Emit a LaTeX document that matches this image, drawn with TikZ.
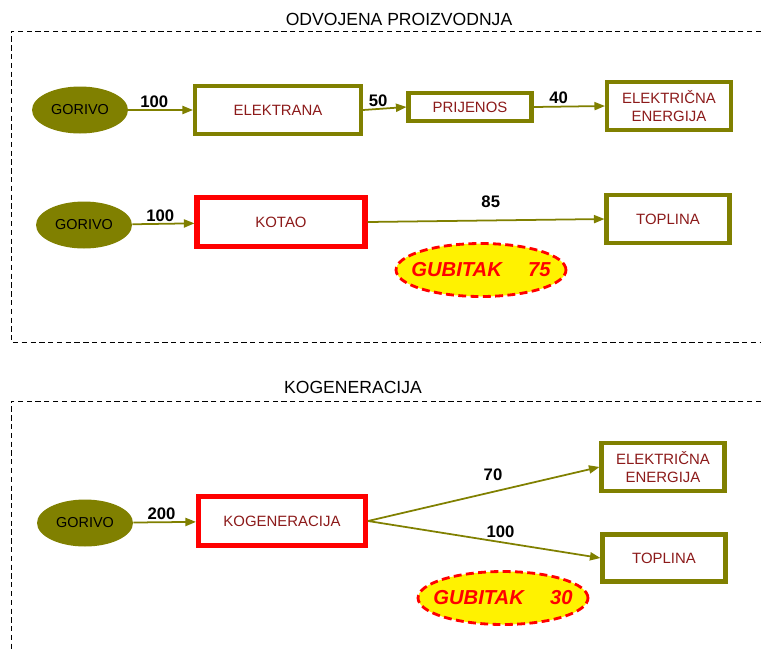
\documentclass[tikz,border=0pt]{standalone}
\usepackage{fontspec}
\setmainfont{Liberation Sans}
\usetikzlibrary{positioning, shapes.geometric, arrows.meta}

\definecolor{maslina}{RGB}{128,128,0}
\definecolor{tamnocrvena}{RGB}{140,26,26}

\tikzset{
  gorivo/.style={ellipse, fill=maslina, minimum width=1.92cm, minimum height=0.94cm, inner sep=0pt, font=\fontsize{8.2}{10}\selectfont},
  blok/.style={draw=maslina, line width=2.3pt, fill=white, text=tamnocrvena, align=center, inner sep=0pt, font=\fontsize{8.5}{10}\selectfont},
  kotao/.style={blok, draw=red, line width=2.9pt},
  tok/.style={draw=maslina, line width=1pt, -{Triangle[length=6pt, width=4.6pt]}},
  iznos/.style={font=\bfseries\fontsize{9.5}{11}\selectfont, inner sep=1pt},
  gubitak/.style={ellipse, draw=red, fill=yellow, dash pattern=on 4.5pt off 2.5pt, line width=1.6pt, text=red, inner xsep=-6.5pt, inner ysep=0pt, minimum width=3.4cm, minimum height=1.06cm, font=\bfseries\itshape\fontsize{11.5}{13}\selectfont},
  naslov/.style={font=\fontsize{10}{12}\selectfont},
  okvir/.style={dash pattern=on 3pt off 2pt, line width=0.5pt}
}

\begin{document}
\begin{tikzpicture}[x=0.02cm, y=-0.02cm]
\useasboundingbox (0,0) rectangle (761,650);

% odvojena proizvodnja
\node[naslov] (naslov1) at (399,19) {ODVOJENA PROIZVODNJA};
\draw[okvir] (761,31) -- (11,31) -- (11,342) -- (761,342);

\node[gorivo] (g1) at (80,110) {GORIVO};
\node[blok, minimum width=3.32cm, minimum height=0.96cm] (elektrana) at (278,110) {ELEKTRANA};
\node[blok, minimum width=2.46cm, minimum height=0.56cm] (prijenos) at (470,107) {PRIJENOS};
\node[blok, minimum width=2.48cm, minimum height=0.96cm] (ee1) at (669,106) {ELEKTRIČNA\\ENERGIJA};

\draw[tok] (g1) -- node[iznos, above, pos=.4] (n1) {100} (elektrana);
\draw[tok] (elektrana.east) -- node[iznos, above, pos=.35] (n2) {50} (prijenos.west);
\draw[tok] (prijenos.east) -- node[iznos, above, pos=.35] (n3) {40} (ee1.west);

\node[gorivo] (g2) at (84,225) {GORIVO};
\node[kotao, minimum width=3.36cm, minimum height=0.98cm] (kotao) at (281,222) {KOTAO};
\node[blok, minimum width=2.46cm, minimum height=0.96cm] (toplina1) at (668,219) {TOPLINA};

\draw[tok] (g2) -- node[iznos, above, pos=.45] (n4) {100} (kotao);
\draw[tok] (kotao.east) -- node[iznos, above=6pt, pos=.52] (n5) {85} (toplina1.west);

\node[gubitak] (gub1) at (481,270) {GUBITAK\hspace{1.3em}75};

% kogeneracija
\node[naslov] (naslov2) at (353,387) {KOGENERACIJA};
\draw[okvir] (761,401) -- (11,401) -- (11,650);

\node[gorivo] (g3) at (85,523) {GORIVO};
\node[kotao, minimum width=3.34cm, minimum height=0.98cm] (kog) at (282,521) {KOGENERACIJA};
\node[blok, minimum width=2.46cm, minimum height=0.96cm] (ee2) at (663,467) {ELEKTRIČNA\\ENERGIJA};
\node[blok, minimum width=2.46cm, minimum height=0.94cm] (toplina2) at (664,558) {TOPLINA};

\draw[tok] (g3) -- node[iznos, above, pos=.45] (n6) {200} (kog);
\draw[tok] (kog.east) -- node[iznos, above=5pt, pos=.54] (n7) {70} (ee2.west);
\draw[tok] (kog.east) -- node[iznos, above=1pt, pos=.57] (n8) {100} (toplina2.west);

\node[gubitak] (gub2) at (503,598) {GUBITAK\hspace{1.3em}30};
\end{tikzpicture}
\end{document}
